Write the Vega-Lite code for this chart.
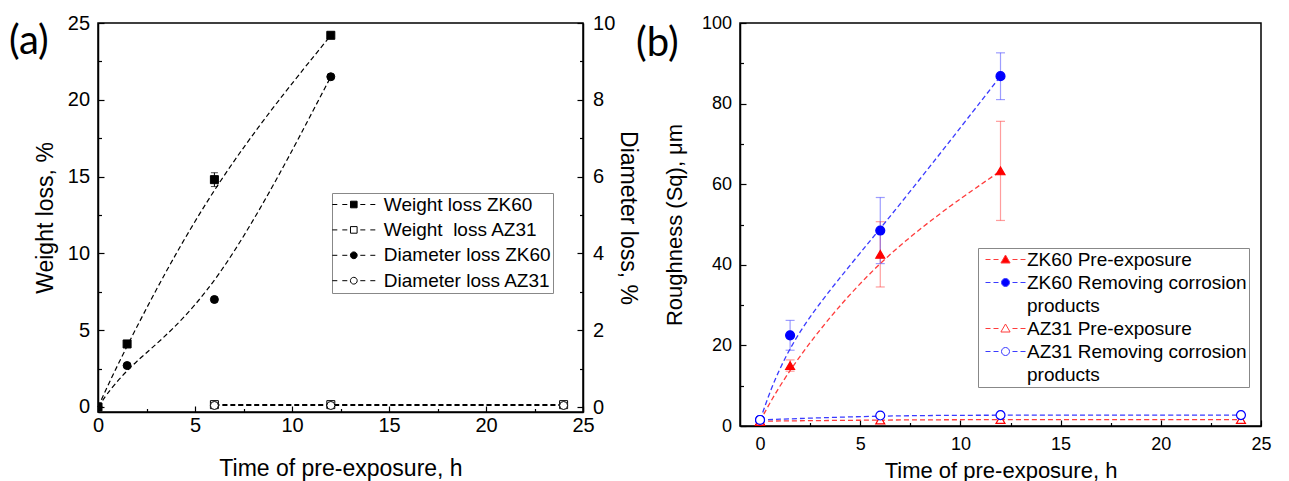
{
  "$schema": "https://vega.github.io/schema/vega-lite/v6.json",
  "padding": {"left": 8, "top": 12, "right": 5, "bottom": 0},
  "background": "white",
  "spacing": -5,
  "resolve": {"scale": {"shape": "independent", "fill": "independent", "stroke": "independent", "color": "independent"}, "legend": {"shape": "independent", "fill": "independent", "stroke": "independent", "color": "independent"}},
  "config": {
    "font": "Liberation Sans",
    "view": {"stroke": "black", "strokeWidth": 1.5},
    "axis": {"domainColor": "black", "domainWidth": 1.5, "tickColor": "black", "tickWidth": 1.2, "labelColor": "black", "titleColor": "black", "grid": false, "labelFont": "Liberation Sans", "titleFont": "Liberation Sans", "titleFontWeight": "normal", "labelFlush": false, "labelOverlap": false, "labelBound": false, "zindex": 1}
  },
  "datasets": {
    "a": [
      {"t": 0, "v": 0, "s": "Weight loss ZK60", "ax": "w"},
      {"t": 1.5, "v": 4.1, "s": "Weight loss ZK60", "ax": "w"},
      {"t": 6, "v": 14.8, "e": 0.45, "s": "Weight loss ZK60", "ax": "w"},
      {"t": 12, "v": 24.2, "s": "Weight loss ZK60", "ax": "w"},
      {"t": 6, "v": 0.15, "s": "Weight loss AZ31", "ax": "w"},
      {"t": 12, "v": 0.15, "s": "Weight loss AZ31", "ax": "w"},
      {"t": 24, "v": 0.15, "s": "Weight loss AZ31", "ax": "w"},
      {"t": 0, "v": 0, "s": "Diameter loss ZK60", "ax": "d"},
      {"t": 1.5, "v": 1.08, "s": "Diameter loss ZK60", "ax": "d"},
      {"t": 6, "v": 2.8, "s": "Diameter loss ZK60", "ax": "d"},
      {"t": 12, "v": 8.6, "s": "Diameter loss ZK60", "ax": "d"},
      {"t": 6, "v": 0.04, "s": "Diameter loss AZ31", "ax": "d"},
      {"t": 12, "v": 0.04, "s": "Diameter loss AZ31", "ax": "d"},
      {"t": 24, "v": 0.04, "s": "Diameter loss AZ31", "ax": "d"}
    ],
    "b": [
      {"t": 0, "v": 1.2, "s": "ZK60 Pre-exposure"},
      {"t": 1.5, "v": 15.0, "e": 1.4, "s": "ZK60 Pre-exposure"},
      {"t": 6, "v": 42.6, "e": 8.1, "s": "ZK60 Pre-exposure"},
      {"t": 12, "v": 63.3, "e": 12.3, "s": "ZK60 Pre-exposure"},
      {"t": 0, "v": 1.5, "s": "ZK60 Removing corrosion products"},
      {"t": 1.5, "v": 22.5, "e": 3.7, "s": "ZK60 Removing corrosion products"},
      {"t": 6, "v": 48.5, "e": 8.2, "s": "ZK60 Removing corrosion products"},
      {"t": 12, "v": 86.8, "e": 5.8, "s": "ZK60 Removing corrosion products"},
      {"t": 0, "v": 1.2, "s": "AZ31 Pre-exposure"},
      {"t": 6, "v": 1.5, "s": "AZ31 Pre-exposure"},
      {"t": 12, "v": 1.6, "s": "AZ31 Pre-exposure"},
      {"t": 24, "v": 1.6, "s": "AZ31 Pre-exposure"},
      {"t": 0, "v": 1.5, "s": "AZ31 Removing corrosion products"},
      {"t": 6, "v": 2.6, "s": "AZ31 Removing corrosion products"},
      {"t": 12, "v": 2.7, "s": "AZ31 Removing corrosion products"},
      {"t": 24, "v": 2.7, "s": "AZ31 Removing corrosion products"}
    ]
  },
  "hconcat": [
    {
      "width": 485,
      "height": 389,
      "data": {"name": "a"},
      "title": {"text": "(a)", "anchor": "start", "frame": "group", "font": "Lato", "fontSize": 40, "fontWeight": "normal", "color": "black", "dx": -89, "dy": 49, "offset": 0},
      "layer": [
        {
          "transform": [{"filter": "datum.ax == 'w'"}],
          "encoding": {
            "x": {"field": "t", "type": "quantitative", "scale": {"domain": [0, 25], "nice": false, "zero": false},
              "axis": {"title": "Time of pre-exposure, h", "values": [0, 2.5, 5, 7.5, 10, 12.5, 15, 17.5, 20, 22.5, 25], "labelExpr": "datum.value % 5 === 0 ? datum.label : ''", "tickSize": {"condition": {"test": "datum.value % 5 === 0", "value": -6}, "value": -3.5}, "labelPadding": 9.5, "labelFontSize": 20, "titleFontSize": 23, "titlePadding": 19.5}},
            "y": {"field": "v", "type": "quantitative", "scale": {"domain": [-0.33, 25], "nice": false, "zero": false},
              "axis": {"title": "Weight loss, %", "orient": "left", "values": [0, 2.5, 5, 7.5, 10, 12.5, 15, 17.5, 20, 22.5, 25], "labelExpr": "datum.value % 5 === 0 ? datum.label : ''", "tickSize": {"condition": {"test": "datum.value % 5 === 0", "value": -6}, "value": -3.5}, "labelPadding": 14.4, "labelFontSize": 20, "titleFontSize": 23, "titlePadding": 10}}
          },
          "layer": [
            {"mark": {"type": "line", "interpolate": "basis", "strokeDash": [5, 3], "strokeWidth": 1.2, "color": "black"}, "encoding": {"detail": {"field": "s"}}},
            {"transform": [{"filter": "datum.e > 0"}], "mark": {"type": "errorbar", "ticks": {"size": 7}, "color": "black", "thickness": 1}, "encoding": {"yError": {"field": "e"}}},
            {"mark": {"type": "point", "size": 64, "strokeWidth": 1, "opacity": 1, "clip": true},
              "encoding": {
                "shape": {"field": "s", "type": "nominal", "scale": {"domain": ["Weight loss ZK60", "Weight loss AZ31"], "range": ["square", "square"]}, "legend": null},
                "fill": {"field": "s", "type": "nominal", "scale": {"domain": ["Weight loss ZK60", "Weight loss AZ31"], "range": ["black", "white"]}, "legend": null},
                "stroke": {"value": "black"}
              }}
          ]
        },
        {
          "transform": [{"filter": "datum.ax == 'd'"}],
          "encoding": {
            "x": {"field": "t", "type": "quantitative", "scale": {"domain": [0, 25], "nice": false, "zero": false}},
            "y": {"field": "v", "type": "quantitative", "scale": {"domain": [-0.13, 10], "nice": false, "zero": false},
              "axis": {"title": "Diameter loss, %", "orient": "right", "values": [0, 1, 2, 3, 4, 5, 6, 7, 8, 9, 10], "labelExpr": "datum.value % 2 === 0 ? datum.label : ''", "tickSize": {"condition": {"test": "datum.value % 2 === 0", "value": -6}, "value": -3.5}, "labelPadding": 15.6, "labelFontSize": 20, "titleFontSize": 23, "titlePadding": 1}}
          },
          "layer": [
            {"mark": {"type": "line", "interpolate": "basis", "strokeDash": [5, 3], "strokeWidth": 1.2, "color": "black"}, "encoding": {"detail": {"field": "s"}}},
            {"mark": {"type": "point", "size": 64, "strokeWidth": 1, "opacity": 1, "clip": true},
              "encoding": {
                "shape": {"field": "s", "type": "nominal", "scale": {"domain": ["Diameter loss ZK60", "Diameter loss AZ31"], "range": ["circle", "circle"]}, "legend": null},
                "fill": {"field": "s", "type": "nominal", "scale": {"domain": ["Diameter loss ZK60", "Diameter loss AZ31"], "range": ["black", "white"]}, "legend": null},
                "stroke": {"value": "black"}
              }}
          ]
        },
        {
          "transform": [{"filter": "false"}],
          "mark": {"type": "point", "size": 4, "strokeWidth": 1, "opacity": 1},
          "encoding": {
            "shape": {"field": "s", "type": "nominal",
              "scale": {"domain": ["Weight loss ZK60", "Weight loss AZ31", "Diameter loss ZK60", "Diameter loss AZ31"],
                "range": ["M-21.5,0H-16.5M-11.5,0H-6.5M6.5,0H11.5M16.5,0H21.5M-3.3,-3.3H3.3V3.3H-3.3Z", "M-21.5,0H-16.5M-11.5,0H-6.5M6.5,0H11.5M16.5,0H21.5M-3.3,-3.3H3.3V3.3H-3.3Z", "M-21.5,0H-16.5M-11.5,0H-6.5M6.5,0H11.5M16.5,0H21.5M3.4,0A3.4,3.4,0,1,1,-3.4,0A3.4,3.4,0,1,1,3.4,0Z", "M-21.5,0H-16.5M-11.5,0H-6.5M6.5,0H11.5M16.5,0H21.5M3.4,0A3.4,3.4,0,1,1,-3.4,0A3.4,3.4,0,1,1,3.4,0Z"]},
              "legend": {"title": null, "orient": "none", "legendX": 234, "legendY": 170, "strokeColor": "#888888", "fillColor": "white", "padding": 2, "labelFont": "Liberation Sans", "labelFontSize": 19, "labelColor": "black", "labelLimit": 400, "rowPadding": 5.4, "symbolSize": 4, "symbolOffset": 10.3, "labelOffset": 20.5, "symbolStrokeWidth": 1, "labelExpr": "datum.label == 'Weight loss AZ31' ? 'Weight\u00a0 loss AZ31' : datum.label"}},
            "fill": {"field": "s", "type": "nominal",
              "scale": {"domain": ["Weight loss ZK60", "Weight loss AZ31", "Diameter loss ZK60", "Diameter loss AZ31"], "range": ["black", "white", "black", "white"]},
              "legend": {"title": null, "orient": "none", "legendX": 234, "legendY": 170, "strokeColor": "#888888", "fillColor": "white", "padding": 2, "labelFont": "Liberation Sans", "labelFontSize": 19, "labelColor": "black", "labelLimit": 400, "rowPadding": 5.4, "symbolSize": 4, "symbolOffset": 10.3, "labelOffset": 20.5, "symbolStrokeWidth": 1, "labelExpr": "datum.label == 'Weight loss AZ31' ? 'Weight\u00a0 loss AZ31' : datum.label"}},
            "stroke": {"field": "s", "type": "nominal",
              "scale": {"domain": ["Weight loss ZK60", "Weight loss AZ31", "Diameter loss ZK60", "Diameter loss AZ31"], "range": ["black", "black", "black", "black"]},
              "legend": {"title": null, "orient": "none", "legendX": 234, "legendY": 170, "strokeColor": "#888888", "fillColor": "white", "padding": 2, "labelFont": "Liberation Sans", "labelFontSize": 19, "labelColor": "black", "labelLimit": 400, "rowPadding": 5.4, "symbolSize": 4, "symbolOffset": 10.3, "labelOffset": 20.5, "symbolStrokeWidth": 1, "labelExpr": "datum.label == 'Weight loss AZ31' ? 'Weight\u00a0 loss AZ31' : datum.label"}}
          }
        }
      ],
      "resolve": {"scale": {"y": "independent", "shape": "independent", "fill": "independent", "stroke": "independent"}}
    },
    {
      "width": 521,
      "height": 403,
      "data": {"name": "b"},
      "title": {"text": "(b)", "anchor": "start", "frame": "group", "font": "Lato", "fontSize": 40, "fontWeight": "normal", "color": "black", "dx": -104, "dy": 50, "offset": 0},
      "layer": [
        {
          "encoding": {
            "x": {"field": "t", "type": "quantitative", "scale": {"domain": [-1, 25], "nice": false, "zero": false},
              "axis": {"title": "Time of pre-exposure, h", "values": [0, 2.5, 5, 7.5, 10, 12.5, 15, 17.5, 20, 22.5, 25], "labelExpr": "datum.value % 5 === 0 ? datum.label : ''", "tickSize": {"condition": {"test": "datum.value % 5 === 0", "value": -6}, "value": -3.5}, "labelPadding": 15.7, "labelFontSize": 18, "titleFontSize": 22, "titlePadding": 4}},
            "y": {"field": "v", "type": "quantitative", "scale": {"domain": [0, 100], "nice": false, "zero": false},
              "axis": {"title": "Roughness (Sq), μm", "values": [0, 10, 20, 30, 40, 50, 60, 70, 80, 90, 100], "labelExpr": "datum.value % 20 === 0 ? datum.label : ''", "tickSize": {"condition": {"test": "datum.value % 20 === 0", "value": -6}, "value": -3.5}, "labelPadding": 14.4, "labelFontSize": 18, "titleFontSize": 22, "titlePadding": 15}}
          },
          "layer": [
            {"mark": {"type": "line", "interpolate": "basis", "strokeDash": [5, 3], "strokeWidth": 1.3},
              "encoding": {"color": {"field": "s", "type": "nominal", "scale": {"domain": ["ZK60 Pre-exposure", "ZK60 Removing corrosion products", "AZ31 Pre-exposure", "AZ31 Removing corrosion products"], "range": ["#ff3b3b", "#3b3bff", "#ff3b3b", "#3b3bff"]}, "legend": null}}},
            {"transform": [{"filter": "datum.e > 0"}], "mark": {"type": "errorbar", "ticks": {"size": 9}, "thickness": 1.2, "opacity": 0.5},
              "encoding": {"yError": {"field": "e"}, "color": {"field": "s", "type": "nominal", "legend": null}}},
            {"mark": {"type": "point", "size": 80, "strokeWidth": 1.2, "opacity": 1},
              "encoding": {
                "shape": {"field": "s", "type": "nominal", "scale": {"domain": ["ZK60 Pre-exposure", "ZK60 Removing corrosion products", "AZ31 Pre-exposure", "AZ31 Removing corrosion products"], "range": ["triangle-up", "circle", "triangle-up", "circle"]}, "legend": null},
                "fill": {"field": "s", "type": "nominal", "scale": {"domain": ["ZK60 Pre-exposure", "ZK60 Removing corrosion products", "AZ31 Pre-exposure", "AZ31 Removing corrosion products"], "range": ["#ff0000", "#0000ff", "white", "white"]}, "legend": null},
                "stroke": {"field": "s", "type": "nominal", "scale": {"domain": ["ZK60 Pre-exposure", "ZK60 Removing corrosion products", "AZ31 Pre-exposure", "AZ31 Removing corrosion products"], "range": ["#ff0000", "#0000ff", "#ff0000", "#0000ff"]}, "legend": null}
              }}
          ]
        },
        {
          "transform": [{"filter": "false"}],
          "mark": {"type": "point", "size": 4, "strokeWidth": 1, "opacity": 1},
          "encoding": {
            "shape": {"field": "s", "type": "nominal",
              "scale": {"domain": ["ZK60 Pre-exposure", "ZK60 Removing corrosion", "products", "AZ31 Pre-exposure", "AZ31 Removing corrosion", "products "],
                "range": ["M-20,0H-15M-12,0H-7M7,0H12M15,0H20M0,-4.5L4.6,3.5L-4.6,3.5Z", "M-20,0H-15M-12,0H-7M7,0H12M15,0H20M4,0A4,4,0,1,1,-4,0A4,4,0,1,1,4,0Z", "M0,0Z", "M-20,0H-15M-12,0H-7M7,0H12M15,0H20M0,-4.5L4.6,3.5L-4.6,3.5Z", "M-20,0H-15M-12,0H-7M7,0H12M15,0H20M4,0A4,4,0,1,1,-4,0A4,4,0,1,1,4,0Z", "M0,0Z"]},
              "legend": {"title": null, "orient": "none", "legendX": 238, "legendY": 225, "strokeColor": "#888888", "fillColor": "white", "padding": 2, "labelFont": "Liberation Sans", "labelFontSize": 19, "labelColor": "black", "labelLimit": 400, "rowPadding": 3, "symbolSize": 4, "symbolOffset": 16, "labelOffset": 12, "symbolStrokeWidth": 1,
                "labelExpr": "indexof(datum.label, 'products') === 0 ? 'products' : '\u00a0' + datum.label"}},
            "fill": {"field": "s", "type": "nominal",
              "scale": {"domain": ["ZK60 Pre-exposure", "ZK60 Removing corrosion", "products", "AZ31 Pre-exposure", "AZ31 Removing corrosion", "products "], "range": ["#ff0000", "#0000ff", "white", "white", "white", "white"]},
              "legend": {"title": null, "orient": "none", "legendX": 238, "legendY": 225, "strokeColor": "#888888", "fillColor": "white", "padding": 2, "labelFont": "Liberation Sans", "labelFontSize": 19, "labelColor": "black", "labelLimit": 400, "rowPadding": 3, "symbolSize": 4, "symbolOffset": 16, "labelOffset": 12, "symbolStrokeWidth": 1,
                "labelExpr": "indexof(datum.label, 'products') === 0 ? 'products' : '\u00a0' + datum.label"}},
            "stroke": {"field": "s", "type": "nominal",
              "scale": {"domain": ["ZK60 Pre-exposure", "ZK60 Removing corrosion", "products", "AZ31 Pre-exposure", "AZ31 Removing corrosion", "products "], "range": ["#ff3b3b", "#3b3bff", "white", "#ff3b3b", "#3b3bff", "white"]},
              "legend": {"title": null, "orient": "none", "legendX": 238, "legendY": 225, "strokeColor": "#888888", "fillColor": "white", "padding": 2, "labelFont": "Liberation Sans", "labelFontSize": 19, "labelColor": "black", "labelLimit": 400, "rowPadding": 3, "symbolSize": 4, "symbolOffset": 16, "labelOffset": 12, "symbolStrokeWidth": 1,
                "labelExpr": "indexof(datum.label, 'products') === 0 ? 'products' : '\u00a0' + datum.label"}}
          }
        }
      ],
      "resolve": {"scale": {"shape": "independent", "fill": "independent", "stroke": "independent"}}
    }
  ]
}
